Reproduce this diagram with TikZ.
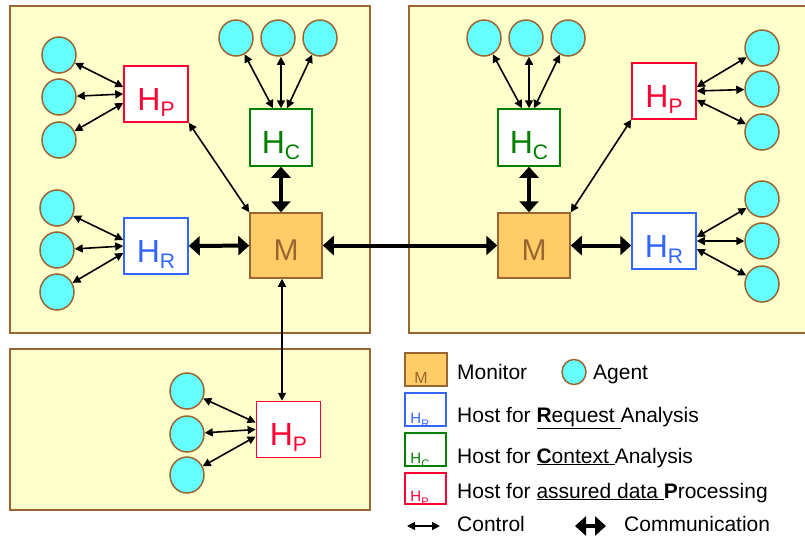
\documentclass[tikz,border=0pt]{standalone}
\usepackage{fontspec}
\setmainfont{Liberation Sans}
\usepackage{tikz}
\usetikzlibrary{shapes.geometric,arrows.meta}

\definecolor{brn}{HTML}{996633}
\definecolor{panelfill}{HTML}{FFFFCC}
\definecolor{agentfill}{HTML}{66FFFF}
\definecolor{monfill}{HTML}{FFCC66}
\definecolor{pcol}{HTML}{FF0033}
\definecolor{ccol}{HTML}{008000}
\definecolor{rcol}{HTML}{3366FF}

% host label: big H with a lowered letter
\newcommand{\hlab}[1]{H\raisebox{-6pt}{\fontsize{21}{21}\selectfont #1}}
\newcommand{\hsmall}[1]{H\raisebox{-4pt}{\fontsize{11}{11}\selectfont #1}}

\tikzset{
  panel/.style={draw=brn, fill=panelfill, line width=1.5pt},
  agent/.style={ellipse, draw=brn, fill=agentfill, line width=1.5pt,
    minimum width=34pt, minimum height=36pt, inner sep=0pt},
  host/.style={draw=#1, fill=white, text=#1, line width=1.5pt,
    minimum width=64pt, minimum height=56pt, inner sep=0pt,
    text height=32pt, text depth=0pt, font=\fontsize{32}{32}\selectfont},
  monitor/.style={draw=brn, fill=monfill, text=brn, line width=1.5pt,
    minimum width=72pt, minimum height=65pt, inner sep=0pt,
    text height=29pt, text depth=0pt, font=\fontsize{30}{30}\selectfont},
  ctrl/.style={line width=1.6pt,
    {Triangle[length=8pt,width=8pt]}-{Triangle[length=8pt,width=8pt]}},
  comm/.style={line width=4pt,
    {Triangle[length=11pt,width=19pt]}-{Triangle[length=11pt,width=19pt]}},
  legtext/.style={anchor=base west, inner sep=0pt, font=\fontsize{21}{21}\selectfont},
  legbox/.style={draw=#1, fill=white, line width=1.5pt,
    minimum width=41pt, minimum height=33pt, inner sep=0pt},
}

\begin{document}
\begin{tikzpicture}[x=1pt,y=-1pt]
  \useasboundingbox (0,0) rectangle (805,535);

  % panels
  \draw[panel] (10,6) rectangle (370,333);
  \draw[panel] (409,6) rectangle (822,333);
  \draw[panel] (10,349) rectangle (370,510);

  % left site
  \node[monitor] (mL) at (286,245.5) {M};
  \node[host=pcol] (hpL) at (156,94) {\hlab{P}};
  \node[host=ccol, minimum width=62pt, minimum height=57pt] (hcL) at (281,137.5) {\hlab{C}};
  \node[host=rcol] (hrL) at (156,246) {\hlab{R}};

  \foreach \y [count=\i] in {55,97,140}
    \node[agent] (apL\i) at (59,\y) {};
  \foreach \y [count=\i] in {208,250,292}
    \node[agent] (arL\i) at (57,\y) {};
  \foreach \x [count=\i] in {236,278,320}
    \node[agent] (acL\i) at (\x,38) {};

  \foreach \i/\s in {1/7,2/0,3/-9}
    \draw[ctrl] (apL\i) -- ([yshift=\s pt]hpL.west);
  \foreach \i/\s in {1/6,2/0,3/-7}
    \draw[ctrl] (arL\i) -- ([yshift=\s pt]hrL.west);
  \draw[ctrl] (acL1) -- ([xshift=-8pt]hcL.north);
  \draw[ctrl] (hcL.north |- acL2.south) -- (hcL.north);
  \draw[ctrl] (acL3) -- ([xshift=6pt]hcL.north);

  % right site
  \node[monitor] (mR) at (534,245.5) {M};
  \node[host=pcol] (hpR) at (664,91) {\hlab{P}};
  \node[host=ccol, minimum width=62pt, minimum height=57pt] (hcR) at (529,137.5) {\hlab{C}};
  \node[host=rcol] (hrR) at (664,241) {\hlab{R}};

  \foreach \y [count=\i] in {48,89,132}
    \node[agent] (apR\i) at (762,\y) {};
  \foreach \y [count=\i] in {199,241,284}
    \node[agent] (arR\i) at (762,\y) {};
  \foreach \x [count=\i] in {484,526,568}
    \node[agent] (acR\i) at (\x,38) {};

  \foreach \i/\s in {1/4,2/0,3/-9}
    \draw[ctrl] (apR\i) -- ([yshift=\s pt]hpR.east);
  \foreach \i/\s in {1/4,2/0,3/-8}
    \draw[ctrl] (arR\i) -- ([yshift=\s pt]hrR.east);
  \draw[ctrl] (acR1) -- ([xshift=-7pt]hcR.north);
  \draw[ctrl] (hcR.north |- acR2.south) -- (hcR.north);
  \draw[ctrl] (acR3) -- ([xshift=5pt]hcR.north);

  % lower site
  \node[host=pcol] (hpB) at (288.4,429.5) {\hlab{P}};
  \foreach \y [count=\i] in {391,434,475}
    \node[agent] (apB\i) at (187,\y) {};
  \foreach \i/\s in {1/7,2/0,3/-7}
    \draw[ctrl] (apB\i) -- ([yshift=\s pt]hpB.west);

  % links between hosts and monitors
  \draw[ctrl] (hpL.south east) -- (mL.north west);
  \draw[ctrl] (mR.north east) -- (hpR.south west);
  \draw[ctrl] ([xshift=-4pt]mL.south) -- ([xshift=-4pt]mL.south |- hpB.north);
  \draw[comm] (hrL) -- (mL);
  \draw[comm] (hcL.south) -- (hcL.south |- mL.north);
  \draw[comm] (mL) -- (mR);
  \draw[comm] (hcR.south) -- (hcR.south |- mR.north);
  \draw[comm] (mR.east) -- (mR.east -| hrR.west);

  % legend
  \node[monitor, minimum width=42pt, minimum height=33pt] (lgM) at (426,369.5) {};
  \node[anchor=base, inner sep=0pt, text=brn, font=\fontsize{16}{16}\selectfont]
    (lgMl) at ([xshift=-5pt,yshift=3pt]lgM.south) {M};
  \node[legtext] (tM) at (457,379) {Monitor};
  \node[agent, minimum width=24pt, minimum height=25pt] (lgA) at (574,372) {};
  \node[legtext] (tA) at (593,379) {Agent};

  \node[legbox=rcol] (lgR) at (425.5,409.5) {};
  \node[anchor=base west, inner sep=0pt, text=rcol, font=\fontsize{15}{15}\selectfont]
    (lgRl) at ([xshift=6pt,yshift=3pt]lgR.south west) {\hsmall{R}};
  \node[legtext] (tR) at (457,422) {Host for \underline{\textbf{R}equest\ }Analysis};

  \node[legbox=ccol] (lgC) at (425.5,449.5) {};
  \node[anchor=base west, inner sep=0pt, text=ccol, font=\fontsize{15}{15}\selectfont]
    (lgCl) at ([xshift=6pt,yshift=3pt]lgC.south west) {\hsmall{C}};
  \node[legtext] (tC) at (457,463) {Host for \underline{\textbf{C}ontext\ }Analysis};

  \node[legbox=pcol, minimum height=31pt] (lgP) at (425.5,488.5) {};
  \node[anchor=base west, inner sep=0pt, text=pcol, font=\fontsize{15}{15}\selectfont]
    (lgPl) at ([xshift=6pt,yshift=3pt]lgP.south west) {\hsmall{P}};
  \node[legtext] (tP) at (457,498) {Host for \underline{assured data\ }\textbf{P}rocessing};

  \coordinate (c1) at (407,526);
  \coordinate (c2) at (440,526);
  \draw[ctrl] (c1) -- (c2);
  \node[legtext] (tCtl) at (457,531) {Control};
  \coordinate (k1) at (575,526);
  \coordinate (k2) at (606,526);
  \draw[comm] (k1) -- (k2);
  \node[legtext] (tCom) at (624,531) {Communication};
\end{tikzpicture}
\end{document}
